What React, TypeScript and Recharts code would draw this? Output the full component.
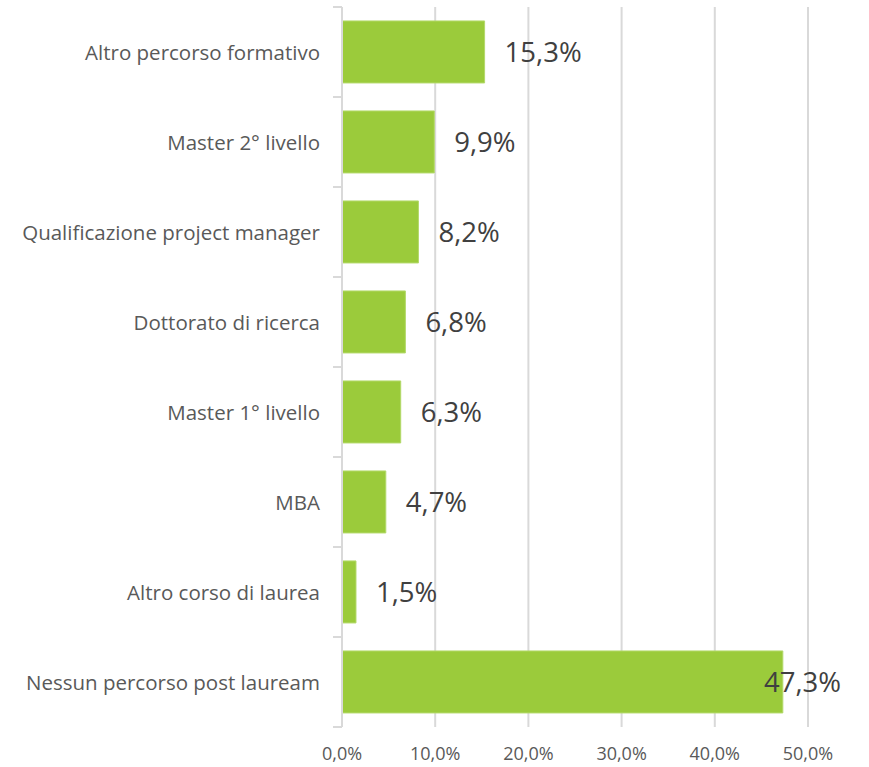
import React from "react"
import { BarChart, Bar, XAxis, YAxis, CartesianGrid, LabelList } from "recharts"

const categories = [
  "Altro percorso formativo",
  "Master 2° livello",
  "Qualificazione project manager",
  "Dottorato di ricerca",
  "Master 1° livello",
  "MBA",
  "Altro corso di laurea",
  "Nessun percorso post lauream",
]
const shares = [0.153, 0.099, 0.082, 0.068, 0.063, 0.047, 0.015, 0.473]
const xTicks = [0, 0.1, 0.2, 0.3, 0.4, 0.5]

const data = categories.map((name, i) => ({ name, value: shares[i] }))

const WIDTH = 869
const HEIGHT = 767
const MARGIN = { top: 7, right: 61, bottom: 0, left: 0 }
const Y_AXIS_WIDTH = 342
const X_AXIS_HEIGHT = 40
const PLOT_HEIGHT = HEIGHT - MARGIN.top - MARGIN.bottom - X_AXIS_HEIGHT
const HALF_BAND = PLOT_HEIGHT / categories.length / 2
const FONT = "'Open Sans', 'Noto Sans', sans-serif"

const pct = (v: number) => (v * 100).toFixed(1).replace(".", ",") + "%"

function CategoryTick(props: any) {
  const { x, y, payload } = props
  const axisX = x + 8
  return (
    <g>
      <line x1={axisX - 9} x2={axisX} y1={y - HALF_BAND} y2={y - HALF_BAND} stroke="#d9d9d9" strokeWidth={2} />
      <line x1={axisX - 9} x2={axisX} y1={y + HALF_BAND} y2={y + HALF_BAND} stroke="#d9d9d9" strokeWidth={2} />
      <text x={x - 14} y={y} textAnchor="end" dominantBaseline="central" fill="#595959" fontSize={20.5} fontFamily={FONT}>
        {payload.value}
      </text>
    </g>
  )
}

function ValueLabel(props: any) {
  const { x, y, width, height, value } = props
  const text = pct(value)
  const textWidth = text.length * 15.8
  const lx = Math.min(x + width + 20, WIDTH - 26 - textWidth)
  return (
    <text x={lx} y={y + height / 2} dominantBaseline="central" fill="#404040" fontSize={27.5} fontFamily={FONT}>
      {text}
    </text>
  )
}

export default function App() {
  return (
    <div style={{ position: "absolute", left: 0, top: 0, background: "#fff" }}>
      <BarChart width={WIDTH} height={HEIGHT} data={data} layout="vertical" margin={MARGIN} barCategoryGap="15.5%">
        <CartesianGrid horizontal={false} stroke="#d9d9d9" strokeWidth={2} />
        <XAxis
          type="number"
          domain={[0, 0.5]}
          ticks={xTicks}
          tickFormatter={pct}
          axisLine={false}
          tickLine={false}
          height={X_AXIS_HEIGHT}
          tickMargin={14}
          tick={{ fill: "#595959", fontSize: 18, fontFamily: FONT }}
        />
        <YAxis
          type="category"
          dataKey="name"
          width={Y_AXIS_WIDTH}
          axisLine={{ stroke: "#d9d9d9", strokeWidth: 2 }}
          tickLine={false}
          tick={<CategoryTick />}
          interval={0}
        />
        <Bar dataKey="value" fill="#9bcb3b" stroke="#b3d96a" strokeWidth={1} isAnimationActive={false}>
          <LabelList dataKey="value" content={<ValueLabel />} />
        </Bar>
      </BarChart>
    </div>
  )
}
